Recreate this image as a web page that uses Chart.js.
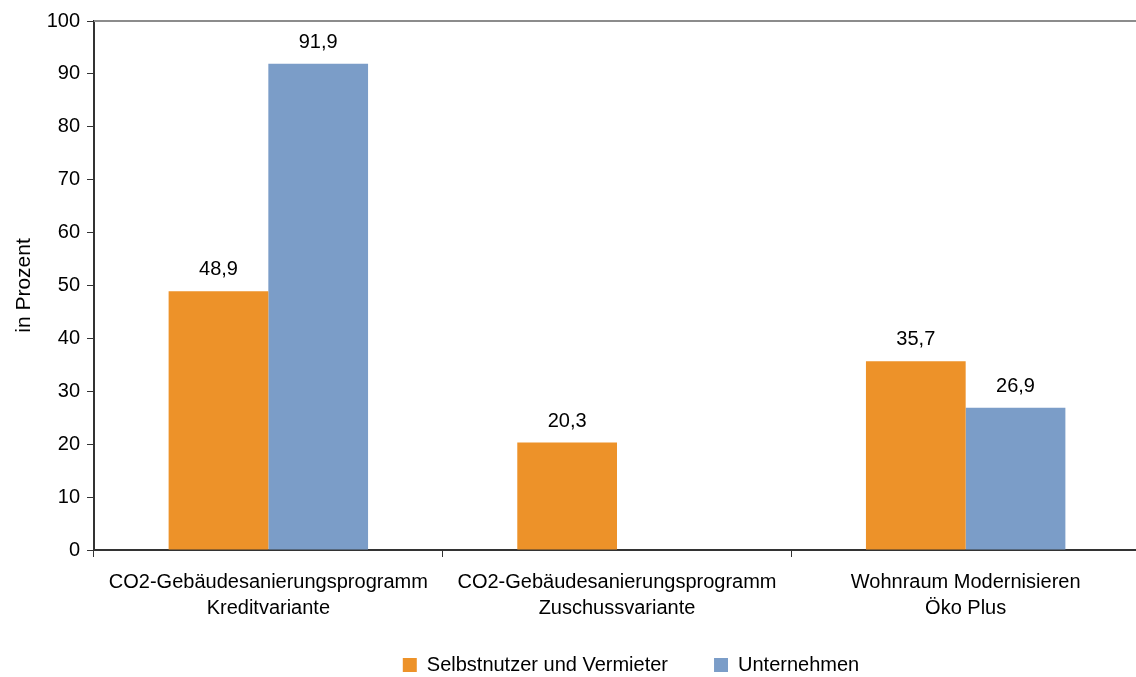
<!DOCTYPE html>
<html>
<head>
<meta charset="utf-8">
<script src="https://cdn.jsdelivr.net/npm/chart.js@4/dist/chart.umd.min.js"></script>
<style>
    html, body { margin: 0; padding: 0; background: #fff; overflow: hidden; }
    #wrap { width: 1136px; height: 677px; overflow: hidden; }
</style>
</head>
<body>
<div id="wrap"><canvas id="foerderung" width="1140" height="706"></canvas></div>
<script>
const kategorien = [
    ["CO2-Gebäudesanierungsprogramm", "Kreditvariante"],
    ["CO2-Gebäudesanierungsprogramm", "Zuschussvariante"],
    ["Wohnraum Modernisieren", "Öko Plus"],
];
const selbstnutzer = [48.9, 20.3, 35.7];
const unternehmen = [91.9, null, 26.9];
const yTicks = [0, 10, 20, 30, 40, 50, 60, 70, 80, 90, 100];

const schrift = "'Liberation Sans', Arial, sans-serif";

// Legende etwas nach oben/rechts rücken
const legendePosition = {
    id: "legendePosition",
    afterLayout(chart) {
        const l = chart.legend;
        l.top -= 21;
        l.bottom -= 21;
        l.left += 61;
        l.right += 61;
    },
};

// Werte über den Balken + graue Linie oben
const beschriftung = {
    id: "beschriftung",
    afterDatasetsDraw(chart) {
        const ctx = chart.ctx;
        const y = chart.scales.y;
        const area = chart.chartArea;
        ctx.save();
        ctx.strokeStyle = "#8c8c8c";
        ctx.lineWidth = 2;
        ctx.beginPath();
        ctx.moveTo(area.left, y.getPixelForValue(100));
        ctx.lineTo(area.right, y.getPixelForValue(100));
        ctx.stroke();

        ctx.font = "20px " + schrift;
        ctx.fillStyle = "#000";
        ctx.textAlign = "center";
        ctx.textBaseline = "alphabetic";
        chart.data.datasets.forEach((ds, i) => {
            chart.getDatasetMeta(i).data.forEach((bar, j) => {
                const v = ds.data[j];
                if (v === null) return;
                ctx.fillText(v.toLocaleString("de-DE", { minimumFractionDigits: 1 }), bar.x, bar.y - 16);
            });
        });
        ctx.restore();
    },
};

new Chart(document.getElementById("foerderung"), {
    type: "bar",
    data: {
        labels: kategorien,
        datasets: [
            {
                label: "Selbstnutzer und Vermieter",
                data: selbstnutzer,
                backgroundColor: "rgb(237,146,41)",
            },
            {
                label: "Unternehmen",
                data: unternehmen,
                backgroundColor: "rgb(123,157,200)",
            },
        ],
    },
    plugins: [beschriftung, legendePosition],
    options: {
        responsive: false,
        animation: false,
        datasets: {
            bar: { categoryPercentage: 0.572, barPercentage: 1 },
        },
        layout: { padding: { top: 21, right: 0, left: 0, bottom: 0 } },
        scales: {
            x: {
                grid: {
                    offset: true,
                    drawOnChartArea: false,
                    color: "#333",
                    tickLength: 7,
                    lineWidth: 1,
                },
                border: { color: "#333", width: 2 },
                ticks: {
                    font: { family: schrift, size: 20, lineHeight: 1.3 },
                    color: "#000",
                    padding: 12,
                    maxRotation: 0,
                    autoSkip: false,
                },
                afterFit: (s) => { s.height = 80; },
            },
            y: {
                min: 0,
                max: 100,
                afterBuildTicks: (s) => { s.ticks = yTicks.map((v) => ({ value: v })); },
                grid: {
                    drawOnChartArea: false,
                    color: "#333",
                    tickLength: 7,
                },
                border: { color: "#333", width: 2 },
                ticks: {
                    font: { family: schrift, size: 20 },
                    color: "#000",
                    padding: 7,
                },
                title: {
                    display: true,
                    text: "in Prozent",
                    font: { family: schrift, size: 21 },
                    color: "#000",
                    padding: { top: 12, bottom: 0 },
                },
                afterFit: (s) => { s.width = 94; },
            },
        },
        plugins: {
            legend: {
                position: "bottom",
                labels: {
                    font: { family: schrift, size: 20 },
                    color: "#000",
                    boxWidth: 14,
                    boxHeight: 14,
                    padding: 46,
                },
            },
            tooltip: { enabled: false },
        },
    },
});
</script>
</body>
</html>
